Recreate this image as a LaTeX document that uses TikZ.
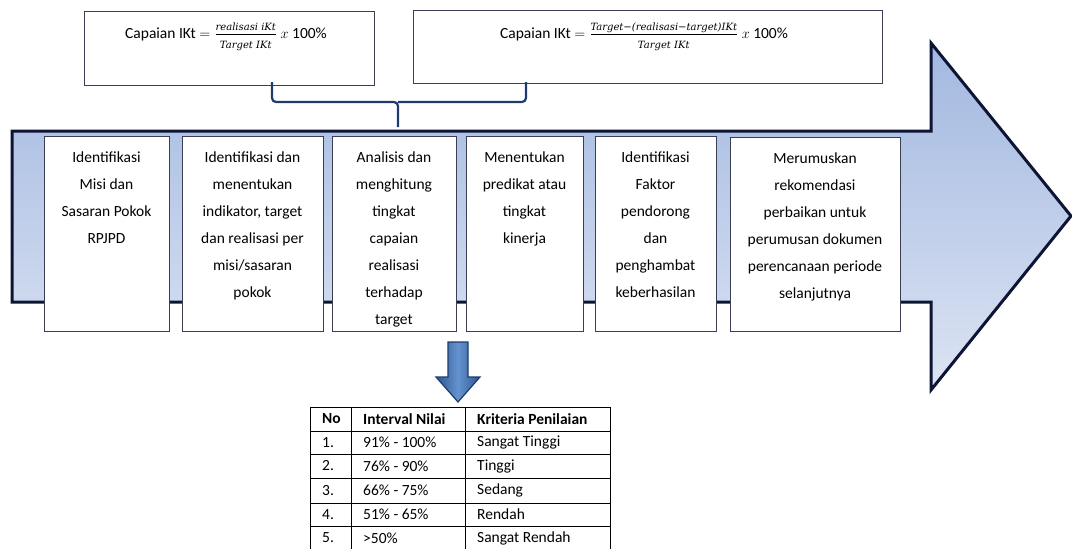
\documentclass[tikz,border=0pt]{standalone}
\usepackage{fontspec}
\setmainfont{Carlito}
\newfontfamily\fracfont{DejaVu Serif}
\usetikzlibrary{positioning}
\definecolor{boxline}{HTML}{3A3F55}
\definecolor{arrline}{HTML}{0E1433}
\definecolor{bracecol}{HTML}{1F3B6E}
\definecolor{arrtop}{HTML}{A2B8E0}
\definecolor{arrbot}{HTML}{DCE4F3}
\definecolor{downdark}{HTML}{2C5890}
\definecolor{downlight}{HTML}{6593CF}
\newcommand{\steptxt}{\fontsize{15.5}{27}\selectfont}
\newcommand{\fracnum}[1]{\mbox{\fracfont\itshape\fontsize{10}{10}\selectfont #1\rule[-4pt]{0pt}{4pt}}}
\newcommand{\fracden}[1]{\mbox{\fracfont\itshape\fontsize{10}{10}\selectfont\rule{0pt}{13pt}#1}}

\begin{document}
\begin{tikzpicture}[x=1pt,y=-1pt,
  topbox/.style={draw=boxline,line width=.8pt,fill=white,inner sep=0},
  stepbox/.style={draw=boxline,line width=.8pt,fill=white,inner sep=0},
  steptext/.style={align=center,inner sep=0,font=\steptxt},
  cell/.style={anchor=west,inner sep=0,font=\steptxt}]
\useasboundingbox (0,0) rectangle (1072,549);

% rumus capaian
\node (f1) at (229,48) [topbox,minimum width=290,minimum height=74] {};
\node (f2) at (647.5,47) [topbox,minimum width=469,minimum height=73] {};
\node (r1) at (226,36.5) [steptext] {Capaian IKt $=\frac{\fracnum{realisasi iKt}}{\fracden{Target IKt}}$ $x$ 100\%};
\node (r2) at (644,36.5) [steptext] {Capaian IKt $=\frac{\fracnum{Target−(realisasi−target)IKt}}{\fracden{Target IKt}}$ $x$ 100\%};

\draw[bracecol,line width=2.2pt,rounded corners=4pt] (272,82) -- (272,102) -- (398,102) -- (398,127);
\draw[bracecol,line width=2.2pt,rounded corners=4pt] (526,82) -- (526,102) -- (398,102);

% panah proses
\draw[arrline,line width=3pt,line join=miter,top color=arrtop,bottom color=arrbot]
  (12,131) -- (931,131) -- (931,43) -- (1071,216) -- (931,390) -- (931,302) -- (12,302) -- cycle;

\node (s1) at (106.5,233.5) [stepbox,minimum width=125,minimum height=195] {};
\node (s2) at (252.5,233.5) [stepbox,minimum width=141,minimum height=195] {};
\node (s3) at (394,233.5) [stepbox,minimum width=124,minimum height=195] {};
\node (s4) at (524.5,233.5) [stepbox,minimum width=117,minimum height=195] {};
\node (s5) at (655.5,233.5) [stepbox,minimum width=121,minimum height=195] {};
\node (s6) at (815,234) [stepbox,minimum width=170,minimum height=194] {};

\node (t1) [steptext,below=16pt of s1.north] {Identifikasi\\Misi dan\\Sasaran Pokok\\RPJPD};
\node (t2) [steptext,below=16pt of s2.north] {Identifikasi dan\\menentukan\\indikator, target\\dan realisasi per\\misi/sasaran\\pokok};
\node (t3) [steptext,below=16pt of s3.north] {Analisis dan\\menghitung\\tingkat\\capaian\\realisasi\\terhadap\\target};
\node (t4) [steptext,below=16pt of s4.north] {Menentukan\\predikat atau\\tingkat\\kinerja};
\node (t5) [steptext,below=16pt of s5.north] {Identifikasi\\Faktor\\pendorong\\dan\\penghambat\\keberhasilan};
\node (t6) [steptext,below=16pt of s6.north] {Merumuskan\\rekomendasi\\perbaikan untuk\\perumusan dokumen\\perencanaan periode\\selanjutnya};

% panah ke tabel
\draw[bracecol,line width=1.2pt,left color=downdark,right color=downdark,middle color=downlight]
  (448,342) -- (468,342) -- (468,377) -- (480,377) -- (458,402) -- (436,377) -- (448,377) -- cycle;

% tabel kriteria
\draw[black,line width=.8pt] (310,551) -- (310,407) -- (610,407) -- (610,551);
\foreach \y in {431,454,478,503,526} \draw[black,line width=.8pt] (310,\y) -- (610,\y);
\draw[black,line width=.8pt] (351,407) -- (351,551);
\draw[black,line width=.8pt] (465,407) -- (465,551);

\node (h1) at (322,419) [cell] {\bfseries No};
\node (h2) at (363,419) [cell] {\bfseries Interval Nilai};
\node (h3) at (477,419) [cell] {\bfseries Kriteria Penilaian};
\foreach \y/\n/\v/\k in {442.5/1./91\% - 100\%/Sangat Tinggi,
                         466/2./76\% - 90\%/Tinggi,
                         490.5/3./66\% - 75\%/Sedang,
                         514.5/4./51\% - 65\%/Rendah,
                         538/5./>50\%/Sangat Rendah}{
  \node at (322,\y) [cell] {\n};
  \node at (363,\y) [cell] {\v};
  \node at (477,\y) [cell] {\k};
}
\end{tikzpicture}
\end{document}
